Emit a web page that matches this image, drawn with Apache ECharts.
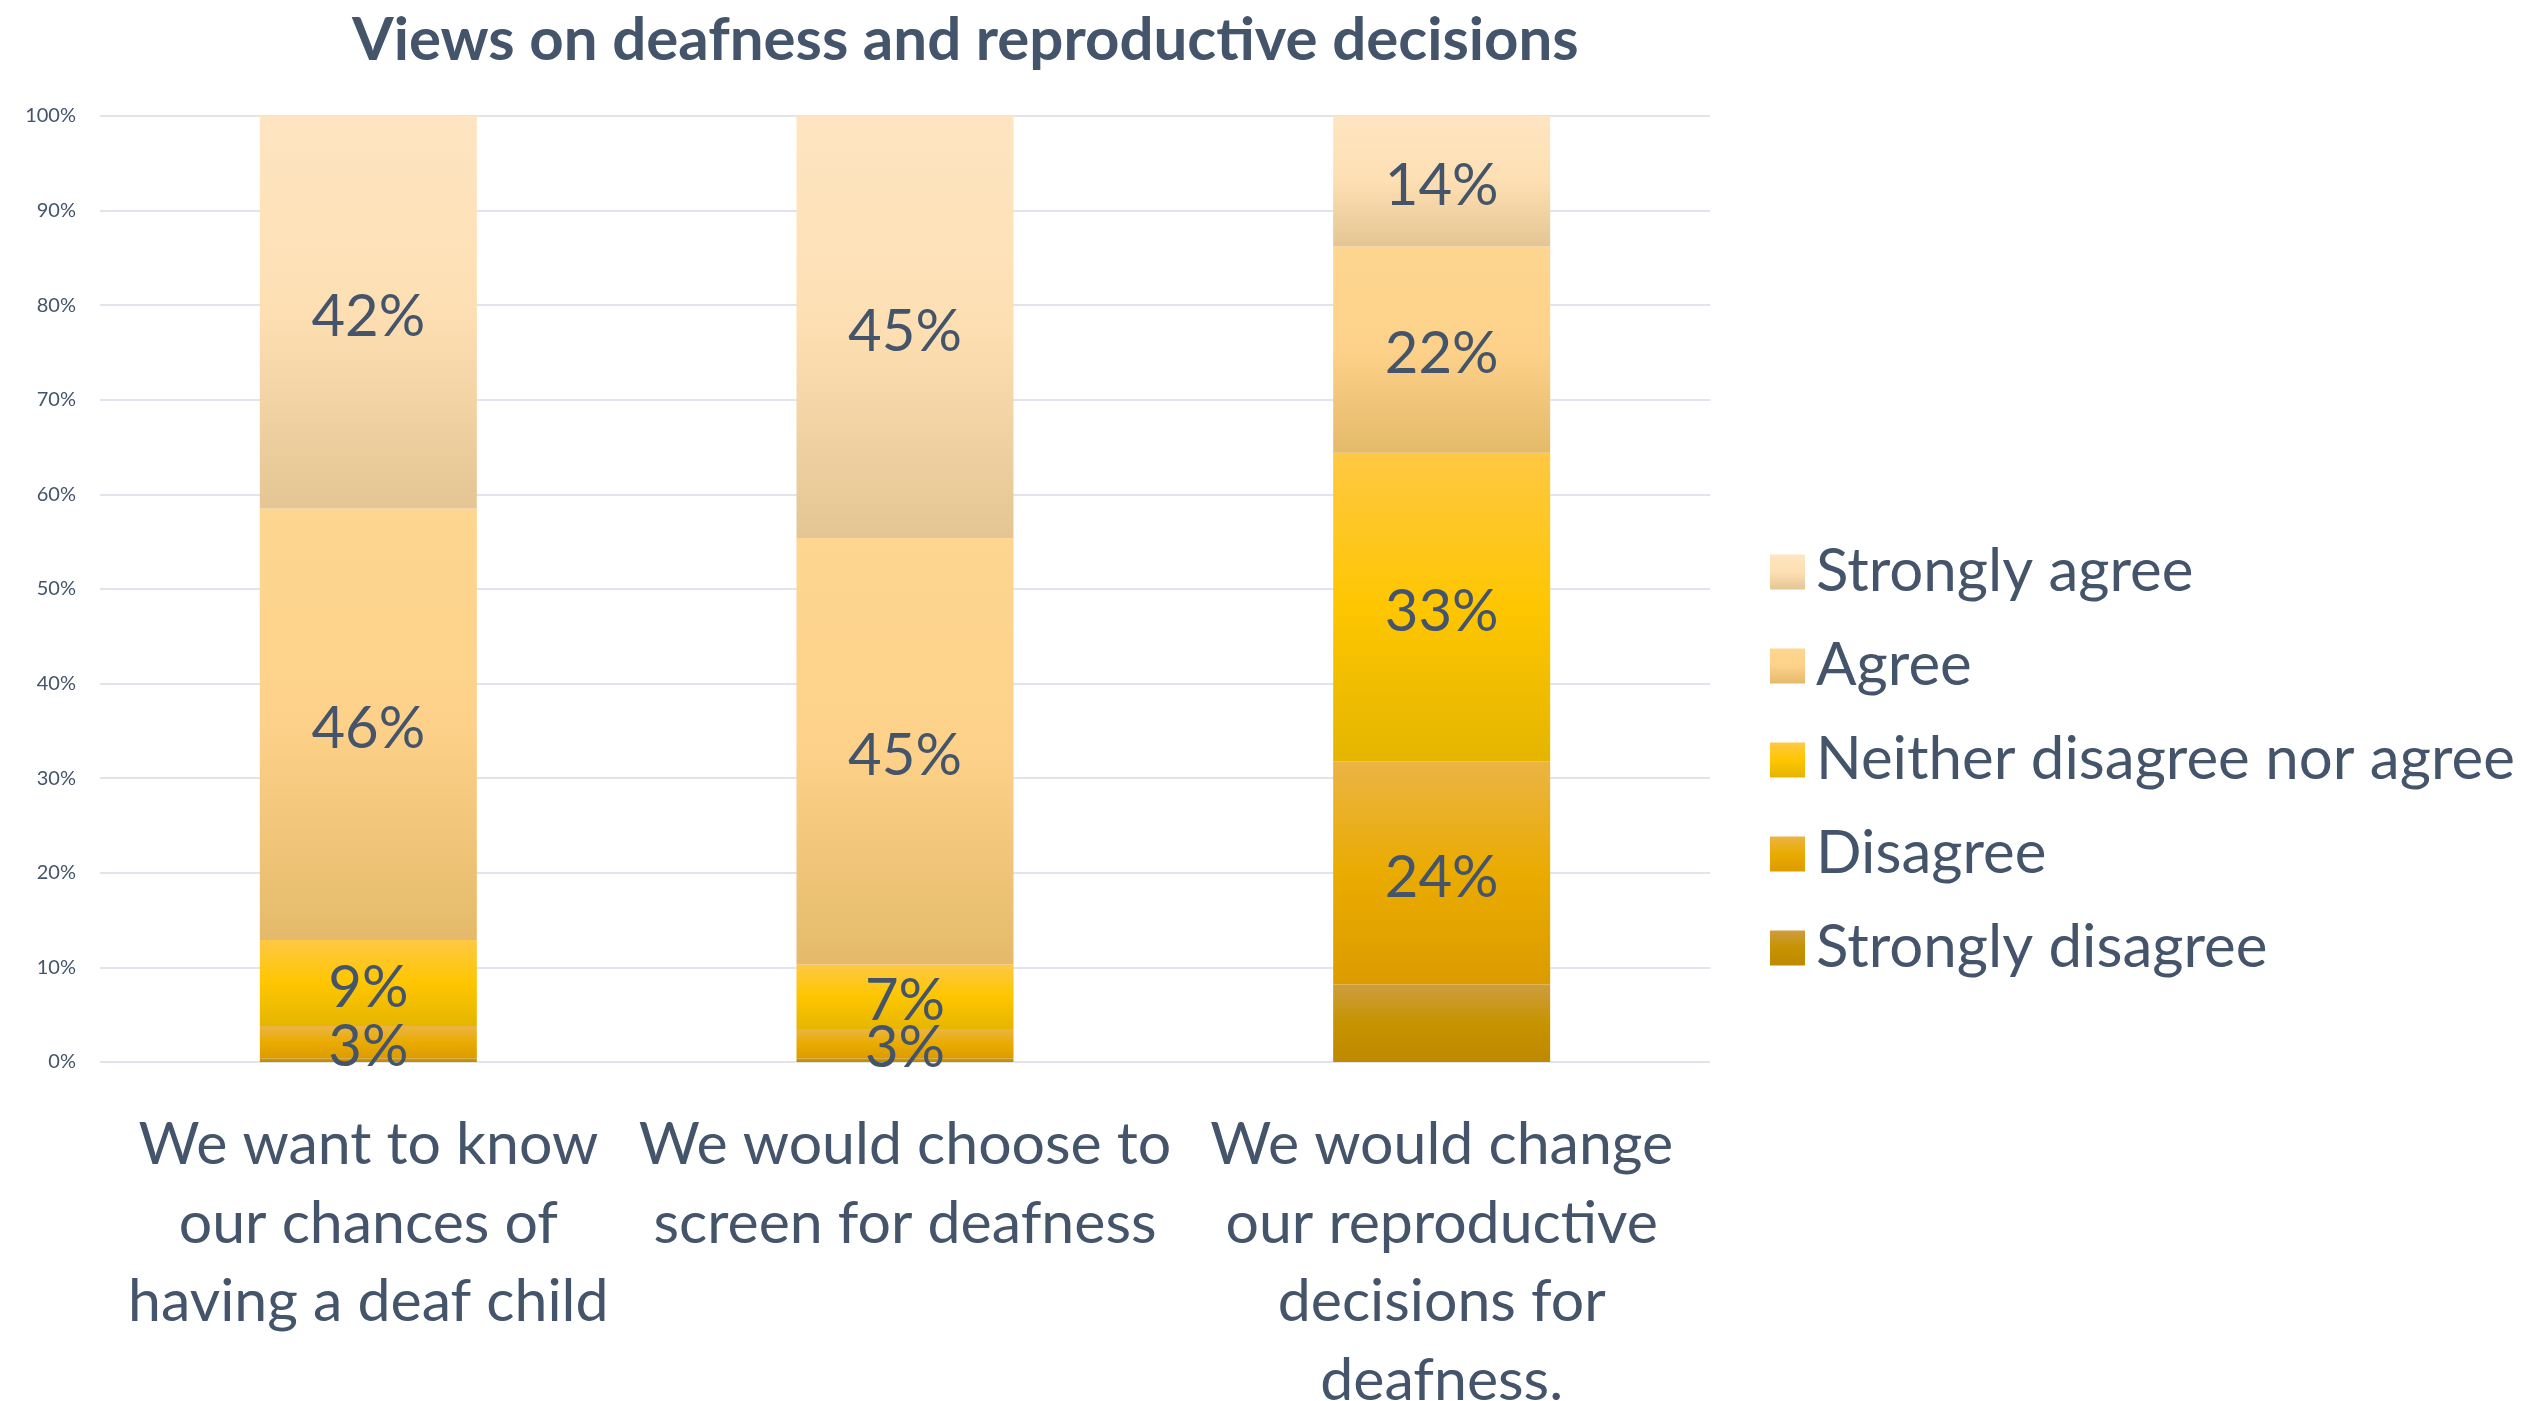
<!DOCTYPE html>
<html>
<head>
<meta charset="utf-8">
<script src="https://cdn.jsdelivr.net/npm/echarts@6/dist/echarts.min.js"></script>
<style>
html,body{margin:0;padding:0;background:#fff;overflow:hidden;}
#chart{width:2534px;height:1401px;}
</style>
</head>
<body>
<div id="chart"></div>
<script>
const categories = [
  "We want to know\nour chances of\nhaving a deaf child",
  "We would choose to\nscreen for deafness",
  "We would change\nour reproductive\ndecisions for\ndeafness."
];
const seriesNames = ["Strongly disagree", "Disagree", "Neither disagree nor agree", "Agree", "Strongly agree"];
const stronglyDisagree = [0.4, 0.4, 8.2];
const disagree = [3.4, 3.1, 23.6];
const neither = [9.1, 6.8, 32.6];
const agree = [45.6, 45.1, 21.8];
const stronglyAgree = [41.5, 44.6, 13.8];
const yTickLabels = ["0%", "10%", "20%", "30%", "40%", "50%", "60%", "70%", "80%", "90%", "100%"];

const values = [stronglyDisagree, disagree, neither, agree, stronglyAgree];
const gradients = [
  ["#cd9d3f", "#c69300", "#bf8900"],
  ["#ebb444", "#eaab00", "#dc9c00"],
  ["#ffc843", "#fec600", "#e5b500"],
  ["#fed690", "#fdd189", "#e4ba6a"],
  ["#fee5c1", "#fddfb3", "#e4c593"]
];
const textColor = "#44546a";
const font = "Lato";

function grad(c) {
  return {
    type: "linear", x: 0, y: 0, x2: 0, y2: 1,
    colorStops: [{offset: 0, color: c[0]}, {offset: 0.5, color: c[1]}, {offset: 1, color: c[2]}]
  };
}

const series = seriesNames.map((name, i) => ({
  name: name,
  type: "bar",
  stack: "total",
  barWidth: 217,
  data: values[i],
  itemStyle: {color: grad(gradients[i])},
  label: {
    show: i !== 0,
    position: "inside",
    offset: [0, 5],
    formatter: p => Math.round(p.value) + "%",
    fontFamily: font,
    fontSize: 58,
    color: textColor
  },
  emphasis: {disabled: true}
}));

const chart = echarts.init(document.getElementById("chart"));
chart.setOption({
  animation: false,
  title: {
    text: "Views on deafness and reproductive decisions",
    left: 347,
    top: 3,
    textStyle: {fontFamily: font, fontWeight: "bold", fontSize: 60, color: textColor, lineHeight: 66}
  },
  legend: {
    orient: "vertical",
    left: 1765,
    top: 537,
    itemWidth: 35,
    itemHeight: 35,
    itemGap: 34,
    icon: "rect",
    data: seriesNames.slice().reverse(),
    textStyle: {fontFamily: font, fontSize: 60, color: textColor, lineHeight: 60, padding: [0, 0, 0, 6]}
  },
  grid: {left: 100, right: 824, top: 116, bottom: 339, containLabel: false, outerBoundsMode: "none"},
  xAxis: {
    type: "category",
    data: categories,
    axisLine: {show: false},
    axisTick: {show: false},
    axisLabel: {
      interval: 0,
      margin: 44,
      fontFamily: font,
      fontSize: 59,
      lineHeight: 78.5,
      color: textColor,
      align: "center"
    }
  },
  yAxis: {
    type: "value",
    min: 0,
    max: 100,
    interval: 10,
    axisLine: {show: false},
    axisTick: {show: false},
    splitLine: {lineStyle: {color: "#e1e5eb", width: 2}},
    axisLabel: {
      margin: 24,
      fontFamily: font,
      fontSize: 20,
      color: textColor,
      formatter: v => yTickLabels[Math.round(v / 10)]
    }
  },
  series: series
});
</script>
</body>
</html>
